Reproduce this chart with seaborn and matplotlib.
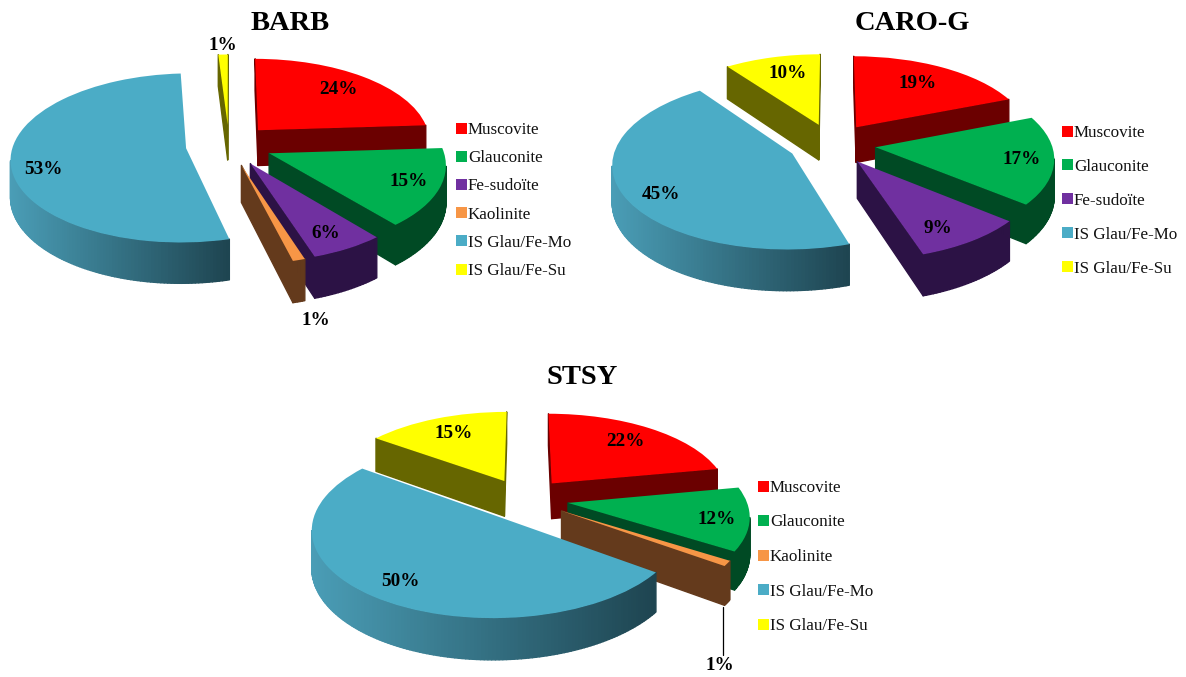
import numpy as np
import matplotlib
matplotlib.use("Agg")
import matplotlib.pyplot as plt
import matplotlib.transforms as mtrans
from matplotlib.collections import PolyCollection
from matplotlib.colors import to_rgb
import seaborn as sns

W, H = 1186, 677

# ---- data ----
barb_names = ["Muscovite", "Glauconite", "Fe-sudoïte", "Kaolinite", "IS Glau/Fe-Mo", "IS Glau/Fe-Su"]
barb_vals = [24, 15, 6, 1, 53, 1]
caro_names = ["Muscovite", "Glauconite", "Fe-sudoïte", "IS Glau/Fe-Mo", "IS Glau/Fe-Su"]
caro_vals = [19, 17, 9, 45, 10]
stsy_names = ["Muscovite", "Glauconite", "Kaolinite", "IS Glau/Fe-Mo", "IS Glau/Fe-Su"]
stsy_vals = [22, 12, 1, 50, 15]

# ---- styles ----
top_col = {"Muscovite": "#FF0000", "Glauconite": "#00B050", "Fe-sudoïte": "#7030A0",
           "Kaolinite": "#F79646", "IS Glau/Fe-Mo": "#4BACC6", "IS Glau/Fe-Su": "#FFFF00"}
side_col = {"Muscovite": "#6B0000", "Glauconite": "#004A24", "Fe-sudoïte": "#2C1245",
            "Kaolinite": "#643A1C", "IS Glau/Fe-Mo": "#1E4652", "IS Glau/Fe-Su": "#666600"}
BLUE_L, BLUE_R = to_rgb("#4A9DB6"), to_rgb("#1E4450")

charts = [
    dict(title="BARB", names=barb_names, vals=barb_vals, rect=(0, 0, 580, 340), centre=(229, 145), rx=173,
         ry=82.7, persp=0.114,
         title_base=30, labels=[(338, 90), (409, 182), (326, 233), (316, 320), (43, 170), (223, 45)],
         legend=(456, 122), spacing=29.2),
    dict(title="CARO-G", names=caro_names, vals=caro_vals, rect=(638, 0, 1186, 340), centre=(832, 144), rx=176,
         ry=82.7, persp=0.114,
         title_base=30, labels=[(918, 84), (1022, 160), (938, 228), (661, 194), (788, 74)],
         legend=(1062, 125), spacing=34.9),
    dict(title="STSY", names=stsy_names, vals=stsy_vals, rect=(264, 345, 900, 677), centre=(524, 499), rx=178,
         ry=83.0, persp=0.135,
         title_base=384, labels=[(625, 441), (717, 519), (720, 666), (400, 581), (454, 433)],
         legend=(758, 480), spacing=35.5, leader=((723, 723), (607, 655))),
]

DEPTH, EXPLODE = 36.0, 0.25
LEG_PX = 17.0

sns.set_theme(style="white")
plt.rcParams["font.family"] = ["Liberation Serif", "DejaVu Serif"]


class Tilt(mtrans.Transform):
    """Tilted-disc projection from pie units to picture pixels."""
    input_dims = output_dims = 2
    is_separable = False
    has_inverse = False

    def __init__(self, cx, cy, rx, ry, persp):
        super().__init__()
        self.cx, self.cy, self.rx, self.ry, self.persp = cx, cy, rx, ry, persp

    def transform_non_affine(self, values):
        v = np.asarray(values, float)
        d = 1 + self.persp * v[:, 1]
        return np.column_stack([self.cx + self.rx * v[:, 0] / d, self.cy - self.ry * v[:, 1] / d])


def draw_pie(fig, c):
    x0, y0, x1, y1 = c["rect"]
    ax = fig.add_axes([x0 / W, 1 - y1 / H, (x1 - x0) / W, (y1 - y0) / H])
    vals, names = np.array(c["vals"], float), c["names"]
    cols = sns.color_palette([top_col[n] for n in names])
    wedges, _, autos = ax.pie(vals, explode=[EXPLODE] * len(vals), colors=cols, startangle=90,
                              counterclock=False, autopct="%.0f%%", radius=1,
                              wedgeprops=dict(linewidth=0))
    ax.set_aspect("auto")
    ax.set_xlim(x0, x1)
    ax.set_ylim(y1, y0)
    ax.set_axis_off()
    tilt = Tilt(*c["centre"], c["rx"], c["ry"], c["persp"])

    # slice geometry, clockwise from twelve o'clock
    edges = np.concatenate([[0], np.cumsum(vals)]) * 3.6
    mids = np.radians((edges[:-1] + edges[1:]) / 2)
    cent_y = []
    for m in mids:
        pt = np.array([[(EXPLODE + .5) * np.sin(m), (EXPLODE + .5) * np.cos(m)]])
        cent_y.append(tilt.transform_non_affine(pt)[0, 1])
    order = np.argsort(np.argsort(cent_y))

    for i, (name, wedge) in enumerate(zip(names, wedges)):
        wedge.set_transform(tilt + ax.transData)
        wedge.set_clip_on(False)
        wedge.set_zorder(3 + 2 * order[i] + 1)
        ang = np.radians(np.linspace(edges[i], edges[i + 1], max(6, int(edges[i + 1] - edges[i]))))
        ox, oy = EXPLODE * np.sin(mids[i]), EXPLODE * np.cos(mids[i])
        ring = np.column_stack([ox + np.sin(ang), oy + np.cos(ang)])
        pts = np.vstack([[[ox, oy]], ring, [[ox, oy]]])
        scr = tilt.transform_non_affine(pts)
        dep = DEPTH / (1 + 0.114 * pts[:, 1])
        low = scr + np.column_stack([np.zeros(len(scr)), dep])
        polys, fc = [], []
        xmin, xmax = scr[:, 0].min(), scr[:, 0].max()
        for j in range(len(scr) - 1):
            if scr[j + 1, 0] >= scr[j, 0]:
                continue            # back-facing wall
            polys.append([scr[j], scr[j + 1], low[j + 1], low[j]])
            if name == "IS Glau/Fe-Mo":
                t = ((scr[j, 0] + scr[j + 1, 0]) / 2 - xmin) / (xmax - xmin)
                fc.append(tuple(np.array(BLUE_L) * (1 - t) + np.array(BLUE_R) * t))
            else:
                fc.append(side_col[name])
        if polys:
            ax.add_collection(PolyCollection(polys, facecolors=fc, edgecolors=fc, linewidths=1.0,
                                             zorder=3 + 2 * order[i], clip_on=False))

    for t, xy in zip(autos, c["labels"]):
        t.set_position(xy)
        t.set_transform(ax.transData)
        t.set_fontsize(13.8)
        t.set_fontweight("bold")
        t.set_color("black")
        t.set_ha("center")
        t.set_va("center")
        t.set_zorder(40)
        t.set_clip_on(False)

    if "leader" in c:
        ax.plot(*c["leader"], color="black", lw=0.9, zorder=39, clip_on=False)

    ax.set_title(c["title"], fontsize=20.5, fontweight="bold", color="black", pad=0,
                 y=1 - (c["title_base"] - y0) / (y1 - y0))

    fs = LEG_PX * 72 / 100
    ax.legend(wedges, names, loc="upper left", bbox_to_anchor=c["legend"], bbox_transform=ax.transData,
              frameon=False, fontsize=fs, handlelength=0.62, handleheight=0.62, handletextpad=0.08,
              borderpad=0, borderaxespad=0, labelspacing=c["spacing"] / LEG_PX - 1.0,
              labelcolor="#111111")


fig = plt.figure(figsize=(W / 100, H / 100), dpi=100, facecolor="white")
for c in charts:
    draw_pie(fig, c)
fig.savefig("out.png", dpi=100, facecolor="white")
